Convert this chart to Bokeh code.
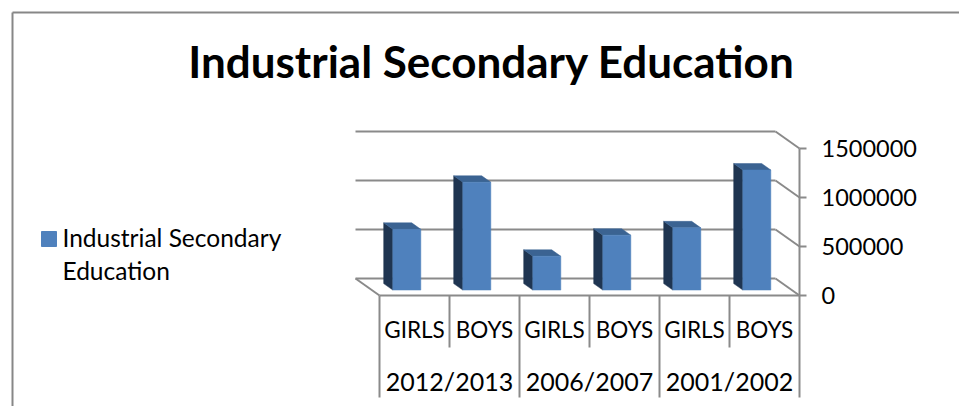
from bokeh.plotting import figure
from bokeh.models import Range1d
from bokeh.core.properties import value
from bokeh.embed import file_html
from bokeh.resources import INLINE

# ---- data ----
years = ["2012/2013", "2006/2007", "2001/2002"]
groups = ["GIRLS", "BOYS"]
students = [620000, 1100000, 345000, 560000, 635000, 1225000]  # per (year, group)
y_ticks = [0, 500000, 1000000, 1500000]
chart_title = "Industrial Secondary Education"
series_name = ["Industrial Secondary", "Education"]

# ---- layout ----
W, H = 959, 406
SLOT_PX = 70                 # width of one category slot in pixels
VAL_PER_PX = 500000 / 49     # value units per vertical pixel
ORIGIN_X, ORIGIN_Y = 379, 295  # canvas pixel of the front-left floor corner

FONT = value("Lato")
GRID = "#8a8a8a"
BLUE = "#4f81bd"
BLUE_TOP = "#3b6392"
BLUE_SIDE = "#1f3551"
BASELINE_SHIFT = 0.4         # text sits this many em below the requested baseline


def ox(px):
    """horizontal pixel offset -> data units"""
    return px / SLOT_PX


def oy(px):
    """upward pixel offset -> data units"""
    return px * VAL_PER_PX


def X(px):
    return ox(px - ORIGIN_X)


def Y(py):
    return oy(ORIGIN_Y - py)


def lift(size):
    """upward correction (data units) for text of the given pixel size"""
    return oy(BASELINE_SHIFT * size)


p = figure(width=W, height=H,
           x_range=Range1d(X(0), X(W)), y_range=Range1d(Y(H), Y(0)),
           x_axis_type=None, y_axis_type=None,
           output_backend="svg", toolbar_location=None, min_border=0)
p.outline_line_color = None
p.background_fill_color = "white"
p.border_fill_color = "white"

n = len(students)
WALL_DX, WALL_DY = ox(-24), oy(17)   # depth of the 3-D box
F_FRONT, F_BACK = 0.32, 0.70        # depth fractions of the bar faces
HALF_W = ox(14)

# chart-area border
p.segment(x0=[X(12), X(12)], y0=[Y(12), Y(12)], x1=[X(12), X(W + 5)], y1=[Y(H + 5), Y(12)],
          line_color="#878787", line_width=2)

# back wall gridlines and side wall lines
bx0 = [WALL_DX] * len(y_ticks)
bx1 = [n + WALL_DX] * len(y_ticks)
by = [v + WALL_DY for v in y_ticks]
p.segment(x0=bx0, y0=by, x1=bx1, y1=by, line_color=GRID, line_width=2)
p.segment(x0=bx1, y0=by, x1=[n] * len(y_ticks), y1=y_ticks, line_color=GRID, line_width=2)

# floor edges
p.segment(x0=[WALL_DX, 0], y0=[WALL_DY, 0], x1=[0, n], y1=[0, 0], line_color=GRID, line_width=2)

# bars
centers = [i + 0.5 for i in range(n)]
fl = [c - HALF_W + F_FRONT * WALL_DX for c in centers]
fr = [c + HALF_W + F_FRONT * WALL_DX for c in centers]
fb = [F_FRONT * WALL_DY] * n
ft = [v + F_FRONT * WALL_DY for v in students]
ddx = (F_BACK - F_FRONT) * WALL_DX
ddy = (F_BACK - F_FRONT) * WALL_DY

side_xs = [[l, l, l + ddx, l + ddx] for l in fl]
side_ys = [[b, t, t + ddy, b + ddy] for b, t in zip(fb, ft)]
top_xs = [[l, r, r + ddx, l + ddx] for l, r in zip(fl, fr)]
top_ys = [[t, t, t + ddy, t + ddy] for t in ft]

p.patches(side_xs, side_ys, fill_color=BLUE_SIDE, line_color=BLUE_SIDE, line_width=0.5)
p.patches(top_xs, top_ys, fill_color=BLUE_TOP, line_color=BLUE_TOP, line_width=0.5)
p.quad(left=fl, right=fr, bottom=fb, top=ft, fill_color=BLUE, line_color=BLUE, line_width=0.5)

# value axis (front right edge)
TICK_FS = 23.5
p.segment(x0=[n], y0=[y_ticks[0]], x1=[n], y1=[y_ticks[-1]], line_color=GRID, line_width=2)
p.segment(x0=[n] * len(y_ticks), y0=y_ticks, x1=[n + ox(7)] * len(y_ticks), y1=y_ticks,
          line_color=GRID, line_width=2)
p.text(x=[n + ox(22)] * len(y_ticks), y=[v - oy(9) + lift(TICK_FS) for v in y_ticks],
       text=[str(v) for v in y_ticks], text_font=FONT, text_font_size=f"{TICK_FS}px",
       text_color="black", text_align="left", text_baseline="alphabetic")

# category axis with group separators
CAT_FS, YEAR_FS = 22.5, 25
seps = list(range(n + 1))
sep_bottom = [-oy(102) if k % len(groups) == 0 else -oy(52) for k in seps]
p.segment(x0=seps, y0=[0] * len(seps), x1=seps, y1=sep_bottom, line_color=GRID, line_width=2)
p.text(x=centers, y=[-oy(43) + lift(CAT_FS)] * n, text=[groups[i % len(groups)] for i in range(n)],
       text_font=FONT, text_font_size=f"{CAT_FS}px", text_color="black",
       text_align="center", text_baseline="alphabetic")
p.text(x=[g * len(groups) + len(groups) / 2 for g in range(len(years))],
       y=[-oy(95) + lift(YEAR_FS)] * len(years), text=years,
       text_font=FONT, text_font_size=f"{YEAR_FS}px", text_color="black",
       text_align="center", text_baseline="alphabetic")

# title
TITLE_FS = 44
p.text(x=[X(491)], y=[Y(78) + lift(TITLE_FS)], text=[chart_title], text_font=FONT,
       text_font_size=f"{TITLE_FS}px", text_font_style="bold", text_color="black",
       text_align="center", text_baseline="alphabetic")

# legend
LEG_FS = 24.5
p.quad(left=[X(41)], right=[X(56)], top=[Y(231)], bottom=[Y(246)],
       fill_color=BLUE, line_color=BLUE)
p.text(x=[X(62), X(62)], y=[Y(246.5) + lift(LEG_FS), Y(279.5) + lift(LEG_FS)], text=series_name,
       text_font=FONT, text_font_size=f"{LEG_FS}px", text_color="black",
       text_align="left", text_baseline="alphabetic")

open("out.html", "w").write(file_html(p, INLINE))
